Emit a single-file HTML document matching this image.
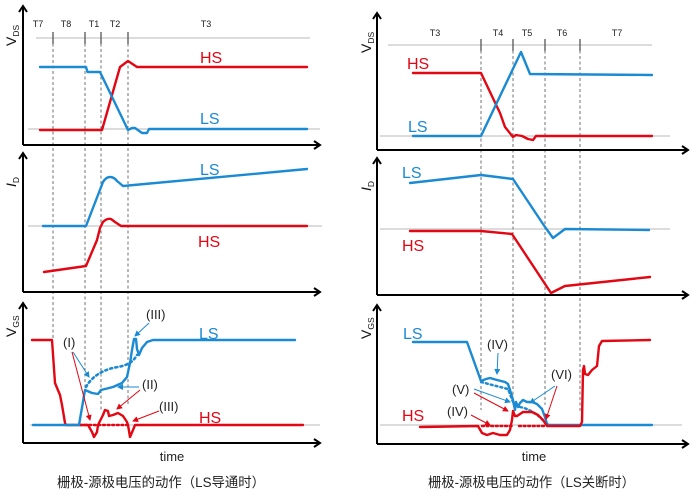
<!DOCTYPE html>
<html><head><meta charset="utf-8">
<style>
html,body{margin:0;padding:0;background:#fff;}
svg{display:block;}
text{font-family:"Liberation Sans","Noto Sans CJK SC",sans-serif;}
</style></head>
<body>
<svg width="700" height="496" viewBox="0 0 700 496" xmlns="http://www.w3.org/2000/svg">
<defs>
<marker id="ab" markerWidth="6" markerHeight="6" refX="5" refY="3" orient="auto" markerUnits="userSpaceOnUse"><path d="M0,0 L6,3 L0,6 z" fill="#1a8ad3"/></marker>
<marker id="ar" markerWidth="6" markerHeight="6" refX="5" refY="3" orient="auto" markerUnits="userSpaceOnUse"><path d="M0,0 L6,3 L0,6 z" fill="#e30613"/></marker>
</defs>

<!-- gray reference lines -->
<g stroke="#c8c8c8" stroke-width="1.2" fill="none">
<line x1="36" y1="38" x2="310" y2="38"/>
<line x1="28" y1="129" x2="320" y2="129"/>
<line x1="28" y1="226" x2="322" y2="226"/>
<line x1="30" y1="425" x2="320" y2="425"/>
<line x1="388" y1="45" x2="652" y2="45"/>
<line x1="380" y1="136" x2="670" y2="136"/>
<line x1="380" y1="229" x2="670" y2="229"/>
<line x1="380" y1="425" x2="682" y2="425"/>
</g>

<!-- dashed verticals -->
<g stroke="#707070" stroke-width="1" stroke-dasharray="3 2.5" fill="none">
<line x1="53" y1="38" x2="53" y2="340"/>
<line x1="85" y1="38" x2="85" y2="388"/>
<line x1="101" y1="38" x2="101" y2="410"/>
<line x1="128" y1="38" x2="128" y2="405"/>
<line x1="481" y1="45" x2="481" y2="410"/>
<line x1="513" y1="45" x2="513" y2="405"/>
<line x1="545" y1="45" x2="545" y2="405"/>
<line x1="580" y1="45" x2="580" y2="412"/>
</g>

<!-- ticks -->
<g stroke="#555" stroke-width="1.3">
<line x1="53" y1="32" x2="53" y2="44"/>
<line x1="85" y1="32" x2="85" y2="44"/>
<line x1="101" y1="32" x2="101" y2="44"/>
<line x1="128" y1="32" x2="128" y2="44"/>
<line x1="481" y1="39" x2="481" y2="51"/>
<line x1="513" y1="39" x2="513" y2="51"/>
<line x1="545" y1="39" x2="545" y2="51"/>
<line x1="580" y1="39" x2="580" y2="51"/>
</g>
<g font-size="9" fill="#222" text-anchor="middle">
<text x="38" y="27">T7</text>
<text x="66" y="27">T8</text>
<text x="94" y="27">T1</text>
<text x="115" y="27">T2</text>
<text x="206" y="27">T3</text>
<text x="435" y="36">T3</text>
<text x="498" y="36">T4</text>
<text x="527" y="36">T5</text>
<text x="562" y="36">T6</text>
<text x="617" y="36">T7</text>
</g>

<!-- axes -->
<g stroke="#000" stroke-width="2" fill="none" stroke-linejoin="miter">
<path d="M23,145 L23,6"/><path d="M19,12 L23,6 L27,12"/>
<path d="M23,145 L320,145"/><path d="M314,141 L320,145 L314,149"/>
<path d="M23,292 L23,153"/><path d="M19,159 L23,153 L27,159"/>
<path d="M23,292 L320,292"/><path d="M314,288 L320,292 L314,296"/>
<path d="M23,443 L23,303"/><path d="M19,309 L23,303 L27,309"/>
<path d="M23,443 L320,443"/><path d="M314,439 L320,443 L314,447"/>

<path d="M377,150 L377,13"/><path d="M373,19 L377,13 L381,19"/>
<path d="M377,150 L688,150"/><path d="M682,146 L688,150 L682,154"/>
<path d="M377,295 L377,158"/><path d="M373,164 L377,158 L381,164"/>
<path d="M377,295 L688,295"/><path d="M682,291 L688,295 L682,299"/>
<path d="M377,444 L377,305"/><path d="M373,311 L377,305 L381,311"/>
<path d="M377,444 L688,444"/><path d="M682,440 L688,444 L682,448"/>
</g>

<!-- axis labels -->
<g fill="#111" font-size="14">
<text transform="translate(16,46) rotate(-90)">V<tspan font-size="8.5" dy="3">DS</tspan></text>
<text transform="translate(16,187) rotate(-90)" font-style="italic">I<tspan font-size="8.5" dy="3" font-style="normal">D</tspan></text>
<text transform="translate(16,337) rotate(-90)">V<tspan font-size="8.5" dy="3">GS</tspan></text>
<text transform="translate(371,53) rotate(-90)">V<tspan font-size="8.5" dy="3">DS</tspan></text>
<text transform="translate(371,191) rotate(-90)" font-style="italic">I<tspan font-size="8.5" dy="3" font-style="normal">D</tspan></text>
<text transform="translate(371,339) rotate(-90)">V<tspan font-size="8.5" dy="3">GS</tspan></text>
</g>
<g fill="#222" font-size="13" text-anchor="middle">
<text x="172" y="461">time</text>
<text x="534" y="461">time</text>
</g>
<g fill="#222" font-size="13.5">
<text x="57" y="487" textLength="208" lengthAdjust="spacingAndGlyphs">栅极-源极电压的动作（LS导通时）</text>
<text x="428" y="487" textLength="207" lengthAdjust="spacingAndGlyphs">栅极-源极电压的动作（LS关断时）</text>
</g>

<!-- series labels -->
<g font-size="16">
<text x="200" y="63" fill="#e30613">HS</text>
<text x="200" y="124" fill="#1a8ad3">LS</text>
<text x="200" y="175" fill="#1a8ad3">LS</text>
<text x="198" y="247" fill="#e30613">HS</text>
<text x="199" y="339" fill="#1a8ad3">LS</text>
<text x="199" y="423" fill="#e30613">HS</text>
<text x="407" y="69" fill="#e30613">HS</text>
<text x="408" y="132" fill="#1a8ad3">LS</text>
<text x="402" y="178" fill="#1a8ad3">LS</text>
<text x="402" y="251" fill="#e30613">HS</text>
<text x="403" y="339" fill="#1a8ad3">LS</text>
<text x="402" y="421" fill="#e30613">HS</text>
</g>

<!-- LEFT series -->
<g fill="none" stroke-width="2.4" stroke-linejoin="round" stroke-linecap="round">
<path stroke="#e30613" d="M40,130 L102,130 L120,67 L128,61 L137,67 L307,67"/>
<path stroke="#1a8ad3" d="M40,67 L86,67 L87.5,72 L100,72 L128,130 L132,128 L135,128 L142,133 L147,133 L149,129 L307,129"/>

<path stroke="#1a8ad3" d="M43,226 L86,226 L103,182 Q106,177 110,177 Q114,177 117,181 L123,186 L307,169"/>
<path stroke="#e30613" d="M44,272 L86,266 L97,240 L100,228 L103,222 Q107,218 111,219 L115,222 L121,226 L307,226"/>

<!-- bottom left -->
<path stroke="#e30613" stroke-dasharray="2 2.6" stroke-width="2.4" d="M80,425 L130,425"/>
<path stroke="#e30613" d="M32,340 L52,340 L55,383 L60,395 L62,405 L65,423 L66,425 L88,425 L92,432 L94,437 L97,432 L98,425 L103,415 L105,410 L108,411 L109,416 L113,415 L118,413 L123,416 L127,422 L128,425 L130,437 L133,430 L135,425 L303,425"/>
<path stroke="#1a8ad3" stroke-dasharray="2 3.2" stroke-width="2.6" d="M86,387 C92,376 104,369 118,367 C128,365 133,362 137,355"/>
<path stroke="#1a8ad3" d="M33,425 L79,425 L85,390 L92,393 L98,394 L101,390 L113,387 L122,383 L127,377 L130,363 L132,350 L134,339 L136,339 L137,349 L139,355 L142,348 L147,342 L153,340 L295,340"/>

<!-- RIGHT series -->
<path stroke="#e30613" d="M413,73 L481,73 L500,113 L505,127 L513,137 L516,135 L522,136 L528,139 L533,140 L536,136 L652,136"/>
<path stroke="#1a8ad3" d="M413,136 L481,136 L521,52 L530,74 L652,75"/>

<path stroke="#1a8ad3" d="M410,183 L481,175 L513,179 L545,227 L553,238 L565,229 L649,230"/>
<path stroke="#e30613" d="M410,231 L481,231 L512,234 L551,293 L565,286 L650,277"/>

<!-- bottom right -->
<path stroke="#1a8ad3" d="M413,342 L467,342 L481,381 L486,379 L490,378 L497,380 L505,382 L508,384 L510,390 L513,400 L515,410 L516,402 L518,407 L520,403 L523,400 L527,402 L532,402 L537,404 L542,409 L545,417 L547,424 L549,425 L652,425"/>
<path stroke="#1a8ad3" stroke-dasharray="2 3" stroke-width="2.4" d="M481,382 L500,387 L508,389 L513,402"/>
<path stroke="#1a8ad3" stroke-dasharray="2 3" stroke-width="2.4" d="M520,407 Q535,410 546,424"/>
<path stroke="#e30613" stroke-dasharray="2 2.6" stroke-width="2.4" d="M482,426 L512,426 M519,426 L545,426"/>
<path stroke="#e30613" d="M420,427 L478,426 L482,433 L487,435 L493,433 L500,435 L507,435 L510,430 L512,420 L513,411 L515,416 L517,416 L523,412 L532,412 L538,415 L543,420 L547,426 L580,426 L582,422 L583,370 L584,366 L585,374 L588,375 L592,370 L597,366 L599,346 L602,341 L650,340"/>
</g>

<!-- annotations -->
<g font-size="13" fill="#222">
<text x="63" y="347">(I)</text>
<text x="142" y="389">(II)</text>
<text x="146" y="319">(III)</text>
<text x="159" y="411">(III)</text>
<text x="487" y="349">(IV)</text>
<text x="452" y="394">(V)</text>
<text x="447" y="416">(IV)</text>
<text x="551" y="379">(VI)</text>
</g>
<g stroke-width="1" fill="none">
<line x1="73" y1="352" x2="89" y2="377" stroke="#1a8ad3" marker-end="url(#ab)"/>
<line x1="72" y1="352" x2="90" y2="420" stroke="#e30613" marker-end="url(#ar)"/>
<line x1="139" y1="387" x2="118" y2="387" stroke="#1a8ad3" marker-end="url(#ab)"/>
<line x1="140" y1="390" x2="117" y2="409" stroke="#e30613" marker-end="url(#ar)"/>
<line x1="149" y1="323" x2="135" y2="336" stroke="#1a8ad3" marker-end="url(#ab)"/>
<line x1="159" y1="411" x2="133" y2="421" stroke="#e30613" marker-end="url(#ar)"/>

<line x1="498" y1="353" x2="497" y2="374" stroke="#1a8ad3" marker-end="url(#ab)"/>
<line x1="474" y1="389" x2="510" y2="402" stroke="#1a8ad3" marker-end="url(#ab)"/>
<line x1="474" y1="393" x2="508" y2="411" stroke="#e30613" marker-end="url(#ar)"/>
<line x1="471" y1="415" x2="490" y2="425" stroke="#e30613" marker-end="url(#ar)"/>
<line x1="555" y1="386" x2="530" y2="403" stroke="#1a8ad3" marker-end="url(#ab)"/>
<line x1="557" y1="386" x2="546" y2="419" stroke="#e30613" marker-end="url(#ar)"/>
</g>
</svg>
</body></html>
